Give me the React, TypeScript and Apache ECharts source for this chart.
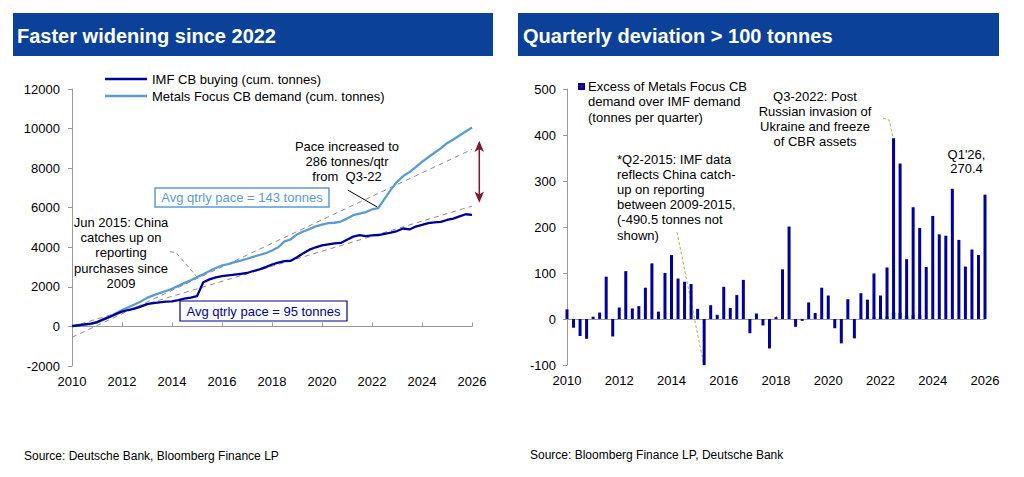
import React, { useEffect, useRef } from "react";
import * as echarts from "echarts";

// ---- Data ----
const START_YEAR = 2010; // first quarter = Q1 2010, one value per quarter up to Q1 2026

// IMF CB buying, cumulative tonnes (quarterly)
const imfCum = [
  20, 60, 100, 140,
  220, 360, 480, 620,
  750, 830, 900, 1000,
  1130, 1180, 1220, 1250,
  1270, 1330, 1400, 1460,
  1530, 2230, 2380, 2480,
  2540, 2580, 2620, 2660,
  2700, 2800, 2880, 3000,
  3130, 3220, 3300, 3320,
  3500, 3700, 3880, 4000,
  4100, 4150, 4200, 4220,
  4380, 4540, 4610, 4560,
  4600, 4620, 4680, 4740,
  4820, 4950, 4900, 5050,
  5130, 5220, 5260, 5280,
  5380, 5450, 5560, 5670,
  5640,
];

// Metals Focus CB demand, cumulative tonnes (quarterly)
const mfCum = [
  20, 50, 80, 120,
  200, 330, 480, 650,
  830, 970, 1110, 1260,
  1440, 1570, 1680, 1790,
  1900, 2050, 2200, 2330,
  2490, 2640, 2800, 2950,
  3080, 3150, 3250, 3330,
  3420, 3520, 3610, 3700,
  3840, 4000, 4300, 4400,
  4650, 4800, 4920, 5060,
  5150, 5220, 5240, 5300,
  5450, 5620, 5700, 5780,
  5910, 5980, 6450, 6900,
  7310, 7600, 7800, 8050,
  8320, 8550, 8780, 9000,
  9260, 9450, 9650, 9850,
  10050,
];

// Excess of Metals Focus CB demand over IMF demand (tonnes per quarter)
const excess = [
  21, -19, -37, -43,
  5, 14, 92, -38,
  25, 104, 23, 28,
  68, 121, 16, 100,
  139, 88, 81, 76,
  22, -490.5, 30, 9,
  70, 24, 52, 85,
  -31, 12, -14, -64,
  4, 108, 201, -17,
  -4, 36, 13, 68,
  51, -20, -53, 43,
  -42, 56, 42, 99,
  51, 112, 393, 338,
  130, 243, 198, 113,
  224, 184, 181, 283,
  172, 114, 151, 139,
  270.4,
];

// small light-blue series visible near zero (2021-2023)
const minorBars = [
  0, 0, 0, 0, 0, 0, 0, 0, 0, 0, 0, 0, 0, 0, 0, 0,
  0, 0, 0, 0, 0, 0, 0, 0, 0, 0, 0, 0, 0, 0, 0, 0,
  0, 0, 0, 0, 0, 0, 0, 0, 0, 0, 0, 0, 0, 2, 3, 4,
  4, 6, 14, 13, 7, 9, 9, 0, 0, 0, 0, 0, 0, 0, 0, 0,
  0,
];

// Average-pace trend lines (start and end points)
const trendHigh = [[2010, -550], [2026, 8950]];
const trendLow = [[2010, 0], [2026, 6080]];

const seriesNames = ["IMF CB buying (cum. tonnes)", "Metals Focus CB demand (cum. tonnes)"];
const barName = "Excess of Metals Focus CB\ndemand over IMF demand\n(tonnes per quarter)";

const qx = (i: number) => START_YEAR + i * 0.25;
const toPairs = (arr: number[]) => arr.map((v, i) => [qx(i), v]);
const plain = (v: number) => String(v);

const FONT = "'Liberation Sans', Arial, Helvetica, sans-serif";
const NAVY = "#000099";
const LIGHT = "#5B9BD5";
const HEADER = "#0C419A";
const AXIS = "#9A9A9A";

export default function App() {
  const ref = useRef<HTMLDivElement>(null);

  useEffect(() => {
    if (!ref.current) return;
    const chart = echarts.init(ref.current, undefined, { renderer: "svg" });

    const text = (x: number, y: number, t: string, extra: any = {}) => ({
      type: "text",
      style: {
        x,
        y,
        text: t,
        fill: "#000",
        font: `13px ${FONT}`,
        textAlign: "center",
        textVerticalAlign: "middle",
        lineHeight: 15.2,
        ...extra,
      },
      silent: true,
    });

    const axisLabel = { fontSize: 13, color: "#000", fontFamily: FONT, formatter: plain };

    const option: any = {
      animation: false,
      backgroundColor: "#ffffff",
      textStyle: { fontFamily: FONT },
      grid: [
        { left: 72, top: 89, width: 400, height: 277 },
        { left: 567, top: 89, width: 418, height: 276 },
      ],
      xAxis: [
        {
          gridIndex: 0, type: "value", min: 2010, max: 2026, interval: 2,
          axisLine: { show: false, onZero: false }, axisTick: { show: false },
          splitLine: { show: false },
          axisLabel: { ...axisLabel, margin: 9 },
        },
        {
          gridIndex: 0, type: "value", min: 2010, max: 2026, interval: 2,
          axisLine: { show: true, onZero: true, lineStyle: { color: AXIS, width: 1 } },
          axisTick: { show: true, length: 4, lineStyle: { color: AXIS } },
          axisLabel: { show: false }, splitLine: { show: false },
        },
        {
          gridIndex: 1, type: "value", min: 2010, max: 2026, interval: 2,
          axisLine: { show: false, onZero: false }, axisTick: { show: false },
          splitLine: { show: false },
          axisLabel: { ...axisLabel, margin: 9 },
        },
        {
          gridIndex: 1, type: "value", min: 2010, max: 2026, interval: 2,
          axisLine: { show: true, onZero: true, lineStyle: { color: AXIS, width: 1 } },
          axisTick: { show: true, length: 3, lineStyle: { color: AXIS } },
          axisLabel: { show: false }, splitLine: { show: false },
        },
      ],
      yAxis: [
        {
          gridIndex: 0, type: "value", min: -2000, max: 12000, interval: 2000,
          axisLine: { show: true, lineStyle: { color: AXIS } },
          axisTick: { show: true, length: 4, lineStyle: { color: AXIS } },
          splitLine: { show: false },
          axisLabel: { ...axisLabel, margin: 12 },
        },
        {
          gridIndex: 1, type: "value", min: -100, max: 500, interval: 100,
          axisLine: { show: true, lineStyle: { color: AXIS } },
          axisTick: { show: true, length: 4, lineStyle: { color: AXIS } },
          splitLine: { show: false },
          axisLabel: { ...axisLabel, margin: 11 },
        },
      ],
      series: [
        {
          type: "line", xAxisIndex: 1, yAxisIndex: 0, data: trendHigh,
          symbol: "none", silent: true,
          lineStyle: { color: "#8C8C8C", width: 1, type: [5, 4] },
        },
        {
          type: "line", xAxisIndex: 1, yAxisIndex: 0, data: trendLow,
          symbol: "none", silent: true,
          lineStyle: { color: "#8C8C8C", width: 1, type: [5, 4] },
        },
        {
          name: seriesNames[1], type: "line", xAxisIndex: 1, yAxisIndex: 0,
          data: toPairs(mfCum), symbol: "none", color: LIGHT,
          lineStyle: { color: LIGHT, width: 2.3 },
        },
        {
          name: seriesNames[0], type: "line", xAxisIndex: 1, yAxisIndex: 0,
          data: toPairs(imfCum), symbol: "none", color: NAVY,
          lineStyle: { color: NAVY, width: 2.3 },
        },
        {
          type: "bar", xAxisIndex: 3, yAxisIndex: 1, data: toPairs(minorBars),
          barWidth: 4, itemStyle: { color: "#6FA8DC" }, silent: true,
        },
        {
          name: barName,
          type: "bar", xAxisIndex: 2, yAxisIndex: 1, data: toPairs(excess),
          barWidth: 3, itemStyle: { color: NAVY }, clip: true,
        },
      ],
      graphic: [
        // headers
        { type: "rect", shape: { x: 13, y: 13, width: 480, height: 43 }, style: { fill: HEADER }, silent: true },
        { type: "rect", shape: { x: 518, y: 13, width: 481, height: 43 }, style: { fill: HEADER }, silent: true },
        text(17, 36, "Faster widening since 2022", { fill: "#fff", font: `bold 20px ${FONT}`, textAlign: "left" }),
        text(523, 36, "Quarterly deviation > 100 tonnes", { fill: "#fff", font: `bold 20px ${FONT}`, textAlign: "left" }),
        // sources
        text(24, 456, "Source: Deutsche Bank, Bloomberg Finance LP", { font: `12px ${FONT}`, textAlign: "left" }),
        text(530, 455, "Source: Bloomberg Finance LP, Deutsche Bank", { font: `12px ${FONT}`, textAlign: "left" }),

        // left legend
        { type: "line", shape: { x1: 105, y1: 79, x2: 147, y2: 79 }, style: { stroke: NAVY, lineWidth: 2.3 }, silent: true },
        { type: "line", shape: { x1: 105, y1: 96, x2: 147, y2: 96 }, style: { stroke: LIGHT, lineWidth: 2.3 }, silent: true },
        text(152, 79, seriesNames[0], { textAlign: "left" }),
        text(152, 96, seriesNames[1], { textAlign: "left" }),

        // left annotations
        text(347, 161, "Pace increased to\n286 tonnes/qtr\nfrom  Q3-22", { lineHeight: 15 }),
        { type: "line", shape: { x1: 347.7, y1: 190, x2: 377.7, y2: 207.3 }, style: { stroke: "#000", lineWidth: 1 }, silent: true },
        { type: "rect", shape: { x: 155, y: 188, width: 174, height: 19 }, style: { fill: "#fff", stroke: LIGHT, lineWidth: 1.5 }, silent: true },
        text(242, 197.5, "Avg qtrly pace = 143 tonnes", { fill: LIGHT }),
        { type: "rect", shape: { x: 180, y: 301, width: 167, height: 20 }, style: { fill: "#fff", stroke: NAVY, lineWidth: 1.2 }, silent: true },
        text(263.5, 311, "Avg qtrly pace = 95 tonnes", { fill: NAVY }),
        text(121, 252.7, "Jun 2015: China\ncatches up on\nreporting\npurchases since\n2009", { lineHeight: 15.3 }),
        {
          type: "polyline", shape: { points: [[170, 251.7], [176, 252.5], [197, 277]] },
          style: { stroke: "#8C8C8C", lineWidth: 1, fill: null, lineDash: [4, 3] }, silent: true,
        },
        // double arrow
        { type: "line", shape: { x1: 479.3, y1: 148, x2: 479.3, y2: 195 }, style: { stroke: "#7A1A2A", lineWidth: 1.5 }, silent: true },
        { type: "polygon", shape: { points: [[479.3, 140.7], [474.5, 152], [479.3, 149], [484, 152]] }, style: { fill: "#7A1A2A" }, silent: true },
        { type: "polygon", shape: { points: [[479.3, 202.7], [474.5, 191.5], [479.3, 194.5], [484, 191.5]] }, style: { fill: "#7A1A2A" }, silent: true },

        // right legend
        { type: "rect", shape: { x: 578, y: 83, width: 7, height: 7 }, style: { fill: NAVY }, silent: true },
        { type: "rect", shape: { x: 580.5, y: 85.5, width: 2, height: 2 }, style: { fill: "#8B1A2A" }, silent: true },
        text(588, 101.7, barName, { textAlign: "left", lineHeight: 15.6 }),
        // right annotations
        text(815, 119.2, "Q3-2022: Post\nRussian invasion of\nUkraine and freeze\nof CBR assets", { lineHeight: 15 }),
        text(966.5, 161.7, "Q1'26,\n270.4", { lineHeight: 14.5 }),
        text(617, 197, "*Q2-2015: IMF data\nreflects China catch-\nup on reporting\nbetween 2009-2015,\n(-490.5 tonnes not\nshown)", { textAlign: "left", lineHeight: 15.2 }),
        { type: "line", shape: { x1: 677, y1: 232, x2: 704, y2: 366 }, style: { stroke: "#9BBB59", lineWidth: 1, lineDash: [3, 2] }, silent: true },
        {
          type: "polyline", shape: { points: [[883, 118], [889, 120], [893, 137]] },
          style: { stroke: "#9BBB59", lineWidth: 1, fill: null, lineDash: [3, 2] }, silent: true,
        },
      ],
    };

    chart.setOption(option);
    return () => chart.dispose();
  }, []);

  return (
    <div
      ref={ref}
      style={{ position: "fixed", left: 0, top: 0, width: 1024, height: 477, background: "#fff" }}
    />
  );
}
